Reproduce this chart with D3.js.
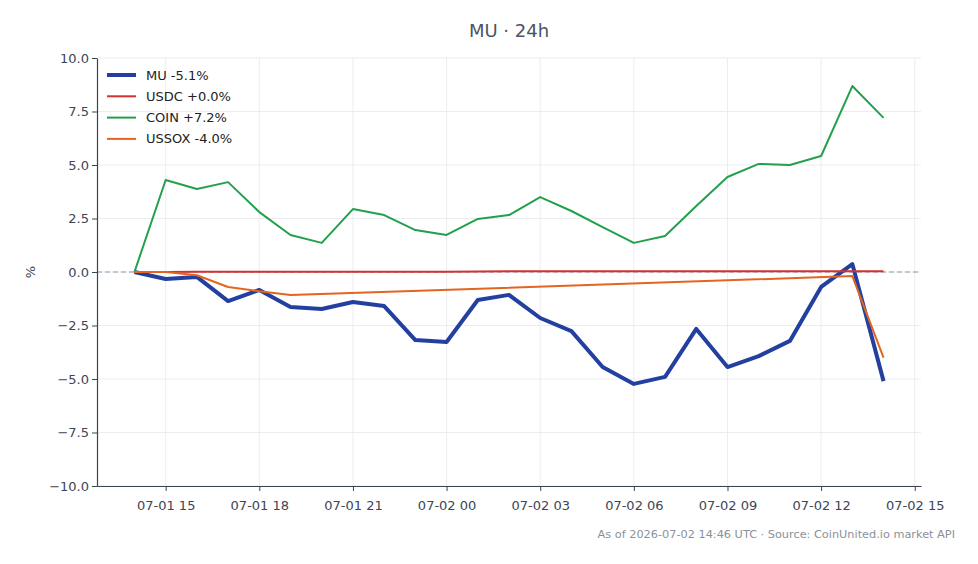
<!DOCTYPE html>
<html>
<head>
<meta charset="utf-8">
<script src="https://cdn.jsdelivr.net/npm/d3@7"></script>
<style>
  body { margin: 0; background: #fff; }
  svg { font-family: "DejaVu Sans", sans-serif; }
</style>
</head>
<body>
<div id="chart"></div>
<script>
// Chart size and plot area
const width = 978;
const height = 564;
const margin = { top: 58, right: 57, bottom: 78, left: 97 };

// Hourly timestamps, 07-01 14:00 to 07-02 14:00 (UTC)
const start = Date.UTC(2026, 6, 1, 14);
const hours = d3.range(25).map(i => new Date(start + i * 3600e3));

// % change series
const muValues = [0, -0.33, -0.23, -1.36, -0.84, -1.64, -1.73, -1.4, -1.59, -3.18, -3.27, -1.31, -1.07,
    -2.15, -2.76, -4.44, -5.23, -4.9, -2.66, -4.44, -3.93, -3.22, -0.7, 0.37, -5.1];
const usdcValues = [0, 0.0, 0.01, 0.01, 0.01, 0.01, 0.01, 0.01, 0.01, 0.01, 0.01, 0.02, 0.03,
    0.03, 0.03, 0.03, 0.03, 0.03, 0.03, 0.04, 0.04, 0.04, 0.04, 0.04, 0.03];
const coinValues = [0, 4.3, 3.88, 4.2, 2.8, 1.73, 1.36, 2.94, 2.66, 1.96, 1.73, 2.48, 2.66,
    3.5, 2.85, 2.1, 1.36, 1.68, 3.08, 4.44, 5.05, 5.0, 5.42, 8.69, 7.2];
// USSOX has no quotes between 07-01 19:00 and 07-02 13:00
const ussoxIdx = [0, 1, 2, 3, 4, 5, 23, 24];
const ussoxValues = [0, 0.0, -0.15, -0.7, -0.9, -1.08, -0.19, -4.0];

const yTicks = [-10, -7.5, -5, -2.5, 0, 2.5, 5, 7.5, 10];

const series = [
    { name: "MU -5.1%", color: "#2340a0", w: 4, pts: muValues.map((v, i) => [hours[i], v]) },
    { name: "USDC +0.0%", color: "#d33232", w: 2, pts: usdcValues.map((v, i) => [hours[i], v]) },
    { name: "COIN +7.2%", color: "#23a04c", w: 2, pts: coinValues.map((v, i) => [hours[i], v]) },
    { name: "USSOX -4.0%", color: "#e2661f", w: 2, pts: ussoxValues.map((v, i) => [hours[ussoxIdx[i]], v]) }
];

const svg = d3.select("#chart")
    .append("svg")
    .attr("width", width)
    .attr("height", height);

// 5% padding on the time axis, like the source
const pad = 24 * 3600e3 * 0.05;
const x = d3.scaleUtc()
    .domain([new Date(start - pad), new Date(+hours[24] + pad)])
    .range([margin.left, width - margin.right]);

const y = d3.scaleLinear()
    .domain([-10, 10])
    .range([height - margin.bottom, margin.top]);

const xTicks = d3.range(9).map(i => new Date(Date.UTC(2026, 6, 1, 15) + i * 3 * 3600e3));
const fmt = d3.utcFormat("%m-%d %H");

// grid
svg.append("g")
    .selectAll("line.gx")
    .data(xTicks)
    .join("line")
    .attr("x1", d => x(d)).attr("x2", d => x(d))
    .attr("y1", margin.top).attr("y2", height - margin.bottom)
    .attr("stroke", "#e6e9ee").attr("stroke-width", 0.8);

svg.append("g")
    .selectAll("line.gy")
    .data(yTicks)
    .join("line")
    .attr("x1", margin.left).attr("x2", width - margin.right)
    .attr("y1", d => y(d)).attr("y2", d => y(d))
    .attr("stroke", "#e6e9ee").attr("stroke-width", 0.8);

// zero reference
svg.append("line")
    .attr("x1", margin.left).attr("x2", width - margin.right)
    .attr("y1", y(0)).attr("y2", y(0))
    .attr("stroke", "#8a98a8").attr("stroke-width", 1)
    .attr("stroke-dasharray", "5,3");

// axes
const xAxis = svg.append("g")
    .attr("transform", `translate(0,${height - margin.bottom})`)
    .call(d3.axisBottom(x).tickValues(xTicks).tickFormat(fmt).tickSize(5).tickSizeOuter(0));

const yAxis = svg.append("g")
    .attr("transform", `translate(${margin.left},0)`)
    .call(d3.axisLeft(y).tickValues(yTicks).tickFormat(d => d3.format(".1f")(d).replace("-", "\u2212")).tickSize(5).tickSizeOuter(0));

[xAxis, yAxis].forEach(a => {
    a.select(".domain").attr("stroke", "#3a4350").attr("stroke-width", 1.2);
    a.selectAll(".tick line").attr("stroke", "#3a4350");
    a.selectAll(".tick text").attr("fill", "#3d4654").style("font-size", "13px")
        .style("font-family", "DejaVu Sans, sans-serif");
});
xAxis.selectAll(".tick text").attr("dy", "1.2em");

// lines
const line = d3.line().x(d => x(d[0])).y(d => y(d[1]));
svg.append("g")
    .selectAll("path")
    .data(series)
    .join("path")
    .attr("d", d => line(d.pts))
    .attr("fill", "none")
    .attr("stroke", d => d.color)
    .attr("stroke-width", d => d.w)
    .attr("stroke-linejoin", "round");

// legend
const legend = svg.append("g").attr("transform", "translate(107,75)");
const item = legend.selectAll("g")
    .data(series)
    .join("g")
    .attr("transform", (d, i) => `translate(0,${i * 21.3})`);
item.append("line")
    .attr("x1", 0).attr("x2", 29)
    .attr("stroke", d => d.color)
    .attr("stroke-width", d => d.w);
item.append("text")
    .attr("x", 39).attr("dy", "0.35em")
    .attr("fill", "#222")
    .style("font-size", "13px")
    .text(d => d.name);

// title and labels
svg.append("text")
    .attr("x", 509).attr("y", 37)
    .attr("text-anchor", "middle")
    .attr("fill", "#4a5566")
    .style("font-size", "18px")
    .text("MU \u00b7 24h");

svg.append("text")
    .attr("transform", `translate(35,${y(0)}) rotate(-90)`)
    .attr("text-anchor", "middle")
    .attr("fill", "#3d4654")
    .style("font-size", "13px")
    .text("%");

svg.append("text")
    .attr("x", 955).attr("y", 538)
    .attr("text-anchor", "end")
    .attr("fill", "#8a919b")
    .style("font-size", "11.3px")
    .text("As of 2026-07-02 14:46 UTC \u00b7 Source: CoinUnited.io market API");
</script>
</body>
</html>
